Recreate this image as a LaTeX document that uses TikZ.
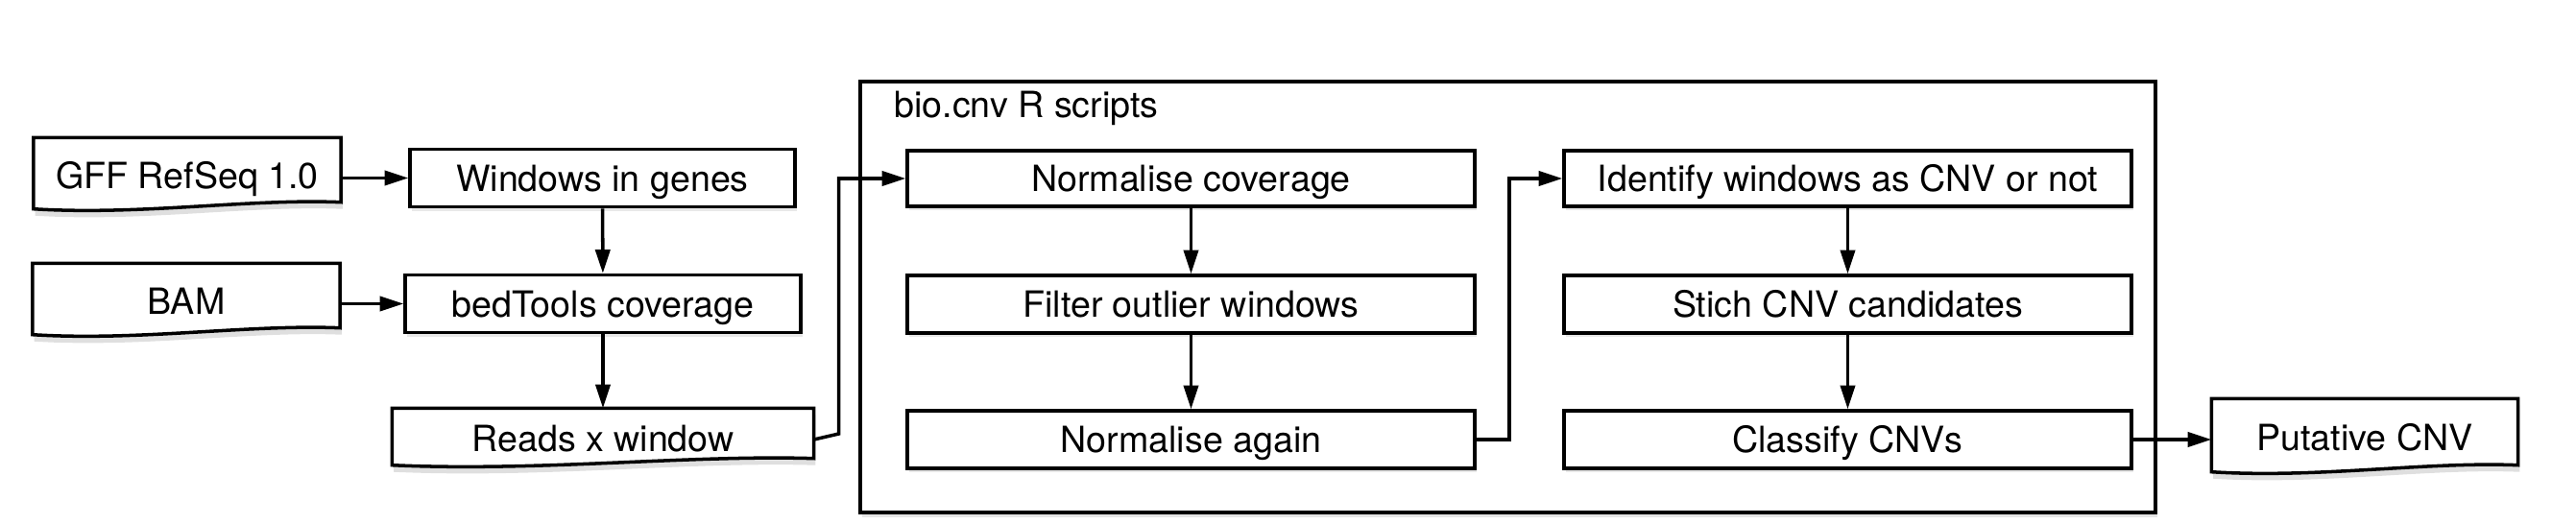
\documentclass[tikz,border=0pt]{standalone}
\usepackage{fontspec}
\setmainfont{TeX Gyre Heros}
\usetikzlibrary{shadows,arrows.meta,calc}
\pgfdeclarelayer{background}
\pgfsetlayers{background,main}
\begin{document}
\begin{tikzpicture}[
  every node/.style={
    font=\fontsize{10.7}{12.8}\selectfont,
    text height=7.7pt,
    text depth=0pt
  },
  stepbox/.style={
    rectangle,
    draw,
    fill=white,
    line width=1pt,
    inner sep=0pt,
    minimum height=0.6cm,
    drop shadow={opacity=0.18,shadow xshift=0.5pt,shadow yshift=-1.2pt}
  },
  docbox/.style={
    rectangle,
    inner sep=0pt,
    minimum width=3.19cm,
    minimum height=0.77cm,
    append after command={
      \pgfextra{
        \begin{pgfonlayer}{background}
        \draw[line width=1pt, fill=white, drop shadow={opacity=0.25,shadow xshift=0.5pt,shadow yshift=-2pt}]
          (\tikzlastnode.north west) -- (\tikzlastnode.north east)
          -- ([yshift=0.11cm]\tikzlastnode.south east)
          .. controls ($(\tikzlastnode.south east)!0.3!(\tikzlastnode.south west)+(0,0.15)$)
          and ($(\tikzlastnode.south east)!0.65!(\tikzlastnode.south west)+(0,-0.03)$)
          .. ([yshift=0.04cm]\tikzlastnode.south west) -- cycle;
        \end{pgfonlayer}
      }
    }
  },
  flow/.style={
    line width=1pt,
    -{Triangle[length=7pt,width=4.3pt]}
  }
]
\useasboundingbox (0,0) rectangle (26.83,5.45);
\node (rscripts) [rectangle, draw, fill=white, line width=1pt, inner sep=0pt, minimum width=13.49cm, minimum height=4.49cm, drop shadow={opacity=0.2,shadow xshift=0.5pt,shadow yshift=-1.5pt}] at (15.705,2.355) {};
\node (rtitle) [anchor=base west] at (9.19,4.22) {bio.cnv R scripts};
\node (gff) [docbox] at (1.95,3.625) {GFF RefSeq 1.0};
\node (bam) [docbox] at (1.94,2.315) {BAM};
\node (windows) [stepbox, minimum width=4.01cm] at (6.275,3.595) {Windows in genes};
\node (bedtools) [stepbox, minimum width=4.12cm] at (6.28,2.285) {bedTools coverage};
\node (reads) [docbox, minimum width=4.38cm, minimum height=0.62cm] at (6.28,0.88) {Reads x window};
\node (normcov) [stepbox, minimum width=5.91cm, minimum height=0.58cm] at (12.405,3.59) {Normalise coverage};
\node (filter) [stepbox, minimum width=5.91cm] at (12.405,2.28) {Filter outlier windows};
\node (normagain) [stepbox, minimum width=5.91cm] at (12.405,0.87) {Normalise again};
\node (identify) [stepbox, minimum width=5.91cm, minimum height=0.58cm] at (19.245,3.59) {Identify windows as CNV or not};
\node (stich) [stepbox, minimum width=5.91cm] at (19.245,2.28) {Stich CNV candidates};
\node (classify) [stepbox, minimum width=5.91cm] at (19.245,0.87) {Classify CNVs};
\node (putative) [docbox, minimum width=3.18cm, minimum height=0.79cm] at (24.63,0.895) {Putative CNV};
\draw[flow] (gff.east |- windows.west) -- (windows.west);
\draw[flow] (bam.east |- bedtools.west) -- (bedtools.west);
\draw[flow] (windows) -- (bedtools);
\draw[flow] (bedtools) -- (reads);
\draw[flow] ([yshift=-0.01cm]reads.east) -- ([xshift=0.26cm,yshift=0.05cm]reads.east) |- (normcov.west);
\draw[flow] (normcov) -- (filter);
\draw[flow] (filter) -- (normagain);
\draw[flow] (normagain.east) -- ++(0.34,0) |- (identify.west);
\draw[flow] (identify) -- (stich);
\draw[flow] (stich) -- (classify);
\draw[flow] (classify) -- (putative.west |- classify.east);
\end{tikzpicture}
\end{document}
